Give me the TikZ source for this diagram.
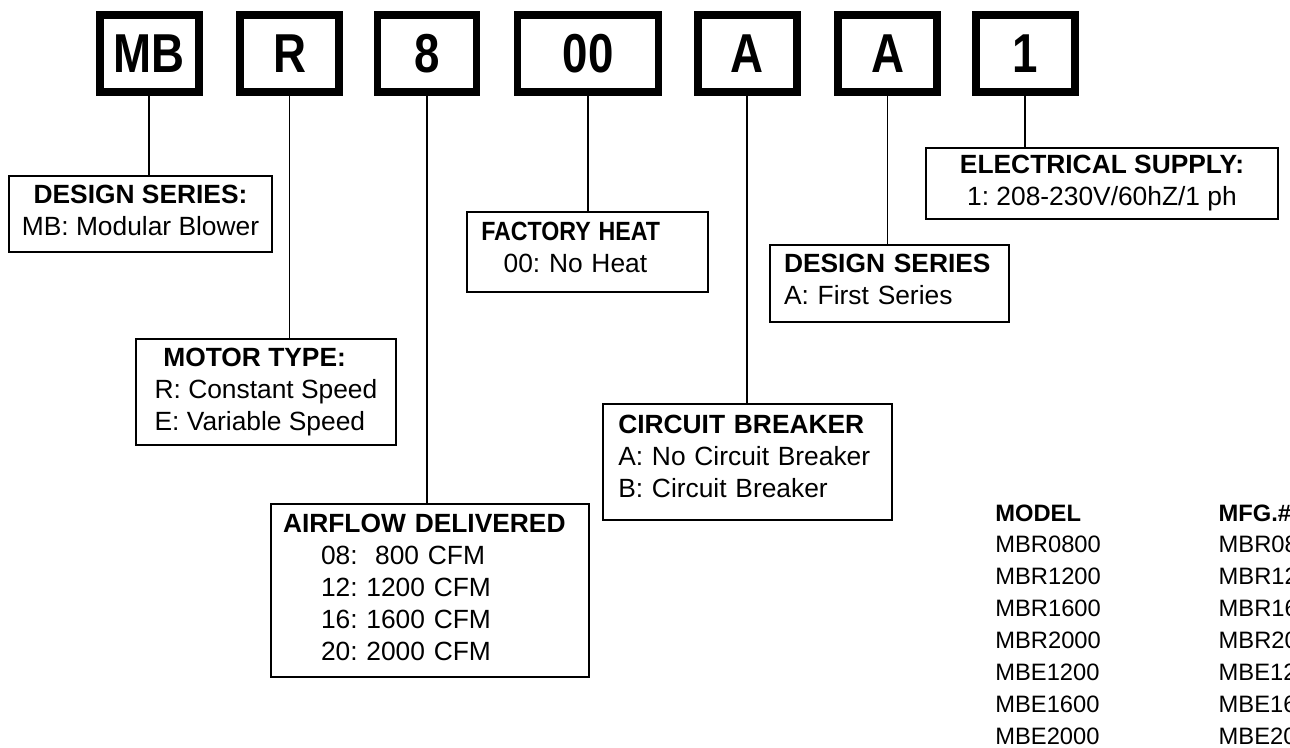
\documentclass[tikz,border=0pt]{standalone}
\usepackage{fontspec}
\setmainfont{Liberation Sans}
\usetikzlibrary{calc}
\newlength{\unitpx}
\setlength{\unitpx}{0.02cm}
\newcommand{\tallcode}[1]{\scalebox{1}[1.2]{#1}}
\tikzset{
  every picture/.style={line join=miter},
  codebox/.style={draw, line width=7.7\unitpx, inner sep=0pt,
    minimum width=98.8\unitpx, minimum height=76.6\unitpx,
    font=\fontsize{26}{28}\selectfont\bfseries},
  infobox/.style={draw, line width=1.1pt, inner sep=0pt,
    font=\fontsize{15}{18.2}\selectfont},
  link/.style={draw, line width=1.1pt},
  cell/.style={anchor=base west, inner sep=0pt, font=\fontsize{13.5}{16}\selectfont},
  colhead/.style={cell, font=\fontsize{13.5}{16}\selectfont\bfseries},
}

\begin{document}
\frenchspacing
\begin{tikzpicture}[x=0.02cm, y=-0.02cm]
\useasboundingbox (0,0) rectangle (1290,747);
\clip (0,0) rectangle (1290,747);

% ---- Model number, one box per field
\node[codebox] (cmb)   at (149.3, 53.6) {\tallcode{MB}};
\node[codebox] (cmot)  at (289.5, 53.6) {\tallcode{R}};
\node[codebox] (cair)  at (427.0, 53.6) {\tallcode{8}};
\node[codebox, minimum width=141\unitpx] (cheat) at (588.0, 53.6) {\tallcode{00}};
\node[codebox] (ccb)   at (747.3, 53.6) {\tallcode{A}};
\node[codebox] (cser)  at (887.5, 53.6) {\tallcode{A}};
\node[codebox] (celec) at (1025.3, 53.6) {\tallcode{1}};

% ---- What each field means
\node[infobox, align=center, minimum width=262.4\unitpx, minimum height=76\unitpx,
  text depth=3.5pt] (dsmb) at (140.5, 213.7)
  {\textbf{DESIGN SERIES:}\\MB: Modular Blower};
\node[infobox, align=left, minimum width=260\unitpx,
  minimum height=106\unitpx] (motor) at (266, 392)
  {\hspace*{8.7\unitpx}\textbf{MOTOR TYPE:}\\R: Constant Speed\\E: Variable Speed};
\node[infobox, align=left, text width=294\unitpx, inner xsep=12\unitpx,
  minimum height=173\unitpx, text depth=77pt] (airflow) at (430, 590.8)
  {\textbf{AIRFLOW DELIVERED}\\
   \hspace*{38\unitpx}08:\ \ 800 CFM\\
   \hspace*{38\unitpx}12: 1200 CFM\\
   \hspace*{38\unitpx}16: 1600 CFM\\
   \hspace*{38\unitpx}20: 2000 CFM};
\node[infobox, align=left, text width=213\unitpx, inner xsep=14\unitpx,
  minimum height=80\unitpx, text depth=23.3pt] (heat) at (587.8, 251.7)
  {\scalebox{0.88}[1]{\textbf{FACTORY HEAT}}\\\hspace*{22.3\unitpx}00: No Heat};
\node[infobox, align=left, text width=258.4\unitpx, inner xsep=15\unitpx,
  minimum height=115.7\unitpx, text depth=42.8pt] (breaker) at (747.5, 462.2)
  {\textbf{CIRCUIT BREAKER}\\A: No Circuit Breaker\\B: Circuit Breaker};
\node[infobox, align=left, text width=211.3\unitpx, inner xsep=14\unitpx,
  minimum height=76.7\unitpx, text depth=23.3pt] (dsa) at (889.7, 283.3)
  {\textbf{DESIGN SERIES}\\A: First Series};
\node[infobox, align=center, minimum width=352.6\unitpx, minimum height=71\unitpx]
  (elec) at (1102, 183.5)
  {\textbf{ELECTRICAL SUPPLY:}\\1: 208-230V/60hZ/1 ph};

% ---- Leaders from the fields down to their boxes
\draw[link] (cmb.south)   -- (cmb.south |- dsmb.north);
\draw[link] (cmot.south)  -- (cmot.south |- motor.north);
\draw[link] (cair.south)  -- (cair.south |- airflow.north);
\draw[link] (cheat.south) -- (cheat.south |- heat.north);
\draw[link] (ccb.south)   -- (ccb.south |- breaker.north);
\draw[link] (cser.south)  -- (cser.south |- dsa.north);
\draw[link] (celec.south) -- (celec.south |- elec.north);

% ---- Model / manufacturer number table
\node[colhead] (hmodel) at (995, 521) {MODEL};
\node[colhead] (hmfg) at (1218.3, 521) {MFG.\#};
\foreach \m [count=\i] in {MBR0800, MBR1200, MBR1600, MBR2000, MBE1200, MBE1600, MBE2000} {
  \node[cell] (model\i) at (995, {521+31.9*\i}) {\m};
  \node[cell] (mfg\i) at (1218.3, {521+31.9*\i}) {\m};
}

\end{tikzpicture}
\end{document}
